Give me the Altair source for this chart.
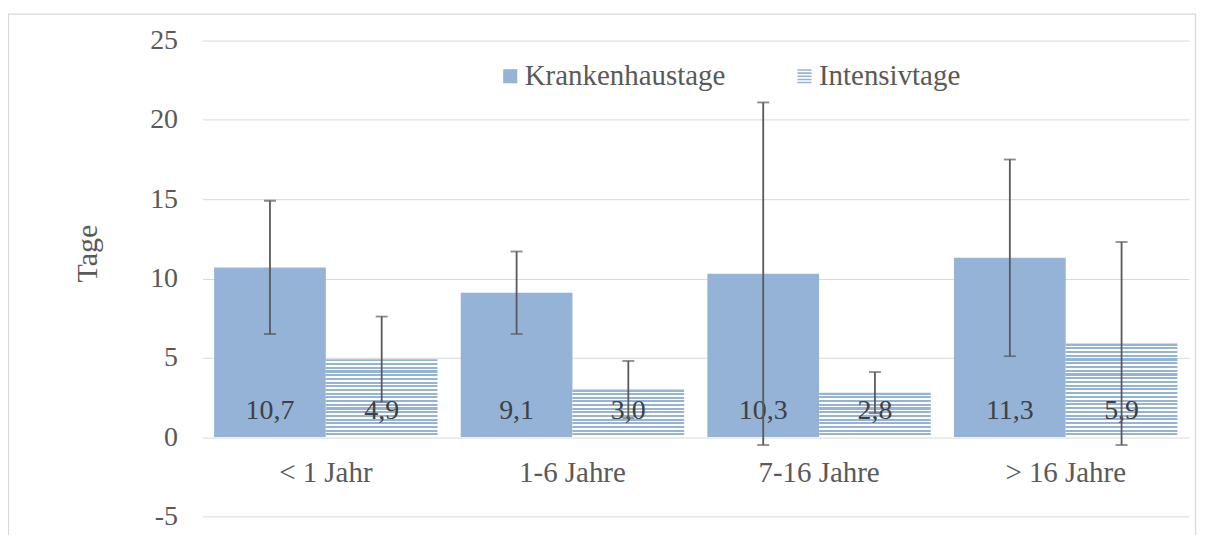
import altair as alt
import pandas as pd

categories = ["< 1 Jahr", "1-6 Jahre", "7-16 Jahre", "> 16 Jahre"]
series = ["Krankenhaustage", "Intensivtage"]
krankenhaus = [10.7, 9.1, 10.3, 11.3]
krankenhaus_err = [4.2, 2.6, 10.8, 6.2]
intensiv = [4.9, 3.0, 2.8, 5.9]
intensiv_err = [2.7, 1.8, 1.3, 6.4]

BLUE = "#95B3D7"
GREY = "#595959"
FONT = "Liberation Serif"
W, H = 989, 477
Y_MIN, Y_MAX = -5, 25
PX_PER_UNIT = H / (Y_MAX - Y_MIN)

rows = []
for c, v, e in zip(categories, krankenhaus, krankenhaus_err):
    rows.append({"Kategorie": c, "Serie": series[0], "Wert": v, "lo": v - e, "hi": v + e})
for c, v, e in zip(categories, intensiv, intensiv_err):
    rows.append({"Kategorie": c, "Serie": series[1], "Wert": v, "lo": v - e, "hi": v + e})
df = pd.DataFrame(rows)
df["Label"] = df["Wert"].map(lambda v: f"{v:.1f}".replace(".", ","))
df["Mitte"] = df["Wert"] / 2

x_enc = alt.X("Kategorie:N", sort=categories,
              scale=alt.Scale(paddingInner=0.094, paddingOuter=0.047),
              axis=alt.Axis(title=None, domain=False, ticks=False, grid=False,
                            labelFont=FONT, labelFontSize=29, labelColor=GREY,
                            labelBaseline="alphabetic", labelPadding=-35, labelAngle=0))
xo_enc = alt.XOffset("Serie:N", sort=series, scale=alt.Scale(domain=series, paddingInner=0, paddingOuter=0))
y_scale = alt.Scale(domain=[Y_MIN, Y_MAX], nice=False, zero=False)
y_enc = alt.Y("Wert:Q", scale=y_scale,
              axis=alt.Axis(title="Tage", values=list(range(-5, 26, 5)), domain=False, ticks=False,
                            grid=True, gridColor="#D9D9D9", gridWidth=1,
                            labelFont=FONT, labelFontSize=28, labelColor=GREY, labelPadding=25,
                            labelExpr="'' + datum.value",
                            titleFont=FONT, titleFontSize=30, titleColor=GREY, titleFontWeight="normal",
                            titlePadding=47, titleY=213))

base = alt.Chart(df)


def stripes(value):
    n = max(1, round(value * PX_PER_UNIT / 3.7))
    stops = []
    for i in range(n):
        a = i / n
        m = (i + 0.55) / n
        b = (i + 1) / n
        stops += [{"offset": a, "color": BLUE}, {"offset": m, "color": BLUE},
                  {"offset": m, "color": "#FFFFFF"}, {"offset": b, "color": "#FFFFFF"}]
    return {"gradient": "linear", "x1": 0, "x2": 0, "y1": 0, "y2": 1, "stops": stops}


kh_bars = base.transform_filter(alt.datum.Serie == series[0]).mark_bar(color=BLUE).encode(
    x=x_enc, xOffset=xo_enc, y=y_enc, y2=alt.Y2(datum=0))

it_layers = []
for c, v in zip(categories, intensiv):
    it_layers.append(
        base.transform_filter((alt.datum.Serie == series[1]) & (alt.datum.Kategorie == c))
        .mark_bar(color=stripes(v))
        .encode(x=x_enc, xOffset=xo_enc, y=y_enc, y2=alt.Y2(datum=0))
    )

labels = base.mark_text(font=FONT, fontSize=28, color="#404040", baseline="alphabetic", dy=-18).encode(
    x=x_enc, xOffset=xo_enc, y=alt.Y(datum=0, scale=y_scale), text="Label:N")

err_rule = base.mark_rule(color=GREY, strokeWidth=1.8).encode(
    x=x_enc, xOffset=xo_enc, y=alt.Y("lo:Q", scale=y_scale), y2="hi:Q")
cap_lo = base.mark_tick(color=GREY, thickness=1.8, size=12).encode(
    x=x_enc, xOffset=xo_enc, y=alt.Y("lo:Q", scale=y_scale))
cap_hi = base.mark_tick(color=GREY, thickness=1.8, size=12).encode(
    x=x_enc, xOffset=xo_enc, y=alt.Y("hi:Q", scale=y_scale))

stripe_path = " ".join(
    f"M-1,{s:.2f}H1V{s + 0.22:.2f}H-1Z" for s in [-1.0, -0.55, -0.1, 0.35, 0.78]
)

# legend-carrying layer: tiny points drawn beneath the bars (hidden by them)
legend_layer = base.mark_point(filled=True, size=1, opacity=1).encode(
    x=x_enc, xOffset=xo_enc, y=alt.Y("Mitte:Q", scale=y_scale),
    color=alt.Color("Serie:N", sort=series,
                    scale=alt.Scale(domain=series, range=[BLUE, BLUE]),
                    legend=alt.Legend(title=None, orient="none", legendX=294, legendY=21,
                                      direction="horizontal", labelFont=FONT, labelFontSize=29,
                                      labelColor=GREY, symbolSize=200, symbolOpacity=1,
                                      symbolStrokeWidth=0, labelOffset=0, columnPadding=64,
                                      labelLimit=0, padding=0)),
    shape=alt.Shape("Serie:N", sort=series,
                    scale=alt.Scale(domain=series, range=["square", stripe_path])),
)

border = alt.Chart(alt.Data(values=[{"a": 1}])).mark_rect(
    fill=None, stroke="#D9D9D9", strokeWidth=1.2).encode(
    x=alt.value(-194.5), x2=alt.value(995.5), y=alt.value(-26.5), y2=alt.value(530))

chart = alt.layer(border, legend_layer, kh_bars, *it_layers, labels, err_rule, cap_lo, cap_hi).properties(
    width=W, height=H,
    padding={"left": 195, "top": 32, "right": 8, "bottom": 18},
    autosize=alt.AutoSizeParams(type="none"),
    background="white",
).configure_view(stroke=None)

chart.save("out.html", embed_options={"renderer": "svg", "actions": False})
